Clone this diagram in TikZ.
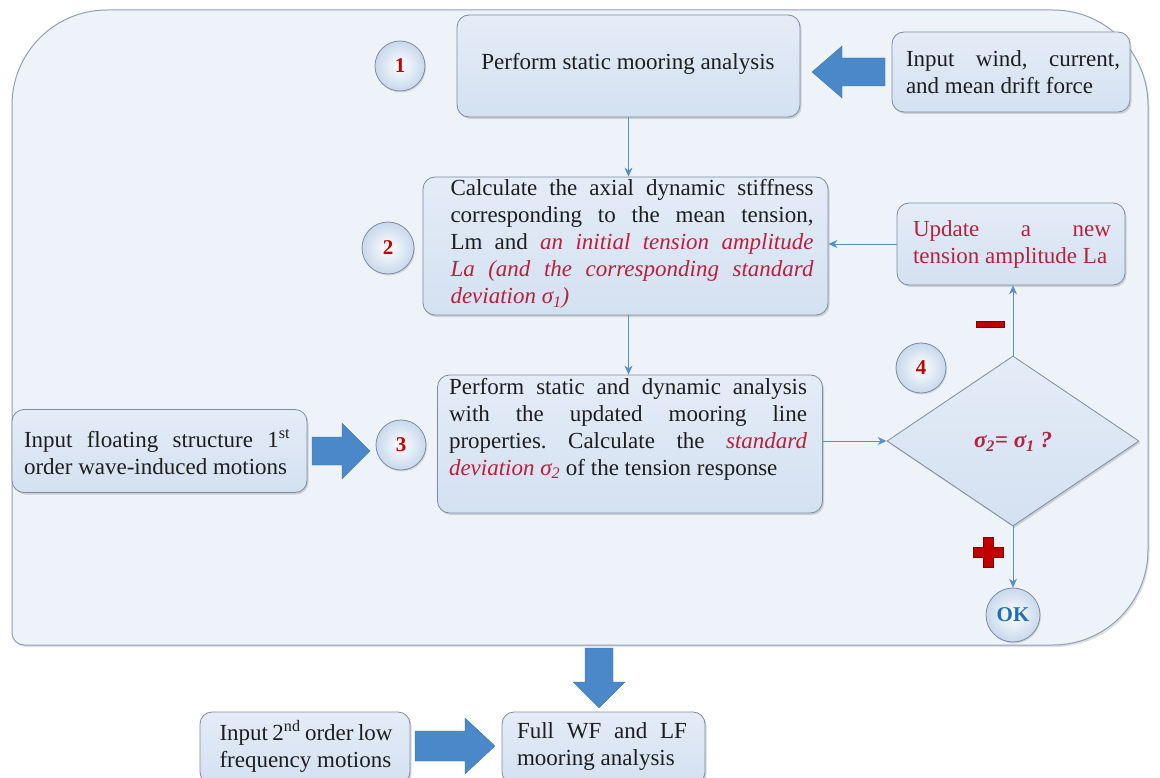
\documentclass[tikz,border=0pt]{standalone}
\usepackage{fontspec}
\setmainfont{Liberation Serif}
\usetikzlibrary{shapes.geometric,arrows.meta,shadows,calc}
\definecolor{contfill}{RGB}{238,243,250}
\definecolor{contline}{RGB}{141,160,186}
\definecolor{boxtop}{RGB}{228,236,247}
\definecolor{boxbot}{RGB}{212,225,241}
\definecolor{boxline}{RGB}{125,140,163}
\definecolor{barrow}{RGB}{74,136,202}
\definecolor{conncol}{RGB}{90,143,201}
\definecolor{redtxt}{RGB}{184,32,60}
\definecolor{numred}{RGB}{192,0,0}
\definecolor{darkred}{RGB}{128,0,0}
\definecolor{txtcol}{RGB}{30,30,30}
\definecolor{okblue}{RGB}{31,110,190}
\definecolor{circout}{RGB}{200,216,236}
\begin{document}
\begin{tikzpicture}[x=1pt,y=-1pt,
  container/.style={draw=contline, line width=1pt, fill=contfill,
    drop shadow={shadow xshift=1.5pt, shadow yshift=-2pt, opacity=0.25}},
  box/.style={draw=boxline, line width=0.8pt, rounded corners=12pt,
    top color=boxtop, bottom color=boxbot,
    drop shadow={shadow xshift=1.5pt, shadow yshift=-2pt, opacity=0.3}},
  txt/.style={font=\fontsize{23}{27}\selectfont,
    execute at begin node={\tolerance=10000\hyphenpenalty=10000\frenchspacing\relax},
    text=txtcol, align=justify, inner sep=0pt},
  numcirc/.style={circle, draw=boxline, line width=0.8pt, minimum size=50pt,
    inner sep=0pt, shading=radial, inner color=white, outer color=circout,
    font=\fontsize{21}{24}\selectfont\bfseries, text=numred,
    drop shadow={shadow xshift=1pt, shadow yshift=-1.5pt, opacity=0.25}},
  blockarrow/.style={fill=barrow, draw=barrow!80!black, line width=0.3pt},
  conn/.style={draw=conncol, line width=0.9pt, -{Stealth[length=9pt,width=8pt]}},
  signmark/.style={fill=numred, draw=darkred, line width=0.6pt}
]
\useasboundingbox (0,0) rectangle (1160,778);
\fill[white] (0,0) rectangle (1160,778);

% container
\path[container] (12,105) .. controls (12,52.6) and (54.6,10) .. (107,10)
  -- (1053,10) .. controls (1105.4,10) and (1148,52.6) .. (1148,105)
  -- (1148,550) .. controls (1148,602.4) and (1105.4,645) .. (1053,645)
  -- (24,645) .. controls (17.4,645) and (12,639.6) .. (12,633) -- cycle;

% boxes
\node[box, minimum width=343pt, minimum height=102pt] (b1) at (628.5,66) {};
\node[txt, align=center] (b1t) at (628,64) {Perform static mooring analysis};

\node[box, minimum width=238pt, minimum height=80pt] (win) at (1011,72) {};
\node[txt, text width=214pt] (wint) at (1013,72)
  {Input wind, current,\linebreak and mean drift force};

\node[box, minimum width=405pt, minimum height=138pt] (b2) at (625.5,246) {};
\node[txt, text width=363pt] (b2t) at (632,244)
  {Calculate the axial dynamic stiffness\linebreak corresponding to the mean tension,\linebreak
   Lm and \textcolor{redtxt}{\itshape an initial tension amplitude\linebreak
   La (and the corresponding standard\linebreak deviation σ\textsubscript{1})}};

\node[box, minimum width=228pt, minimum height=82pt] (up) at (1011,244) {};
\node[txt, text width=198pt, text=redtxt] (upt) at (1012,244)
  {Update a new\linebreak tension amplitude La};

\node[box, minimum width=385pt, minimum height=138pt] (b3) at (630,444) {};
\node[txt, text width=358pt] (b3t) at (628,429)
  {Perform static and dynamic analysis\linebreak with the updated mooring line\linebreak
   properties. Calculate the \textcolor{redtxt}{\itshape standard\linebreak
   deviation σ\textsubscript{2}} of the tension response};

\node[box, minimum width=295pt, minimum height=83pt] (flo) at (159.5,451) {};
\node[txt, text width=266pt] (flot) at (157,452)
  {Input floating structure 1\textsuperscript{st}\linebreak order wave-induced motions};

\node[box, draw=boxline, minimum width=252pt, minimum height=170pt,
  shape=diamond, rounded corners=0pt, inner sep=0pt] (dia) at (1013,441) {};
\node[txt, align=center, text=redtxt, font=\fontsize{23}{27}\selectfont\bfseries\itshape] (diat) at (1013,442)
  {σ\textsubscript{2}= σ\textsubscript{1} ?};

\node[box, minimum width=210pt, minimum height=72pt] (in2) at (305,748) {};
\node[txt, text width=173pt] (in2t) at (306,746)
  {Input 2\textsuperscript{nd} order low\linebreak frequency motions};

\node[box, minimum width=203pt, minimum height=72pt] (full) at (603.5,748) {};
\node[txt, text width=170pt] (fullt) at (602,746)
  {Full WF and LF\linebreak mooring analysis};

% numbered circles
\node[numcirc] (c1) at (400,66) {1};
\node[numcirc, minimum size=52pt] (c2) at (388,248) {2};
\node[numcirc] (c3) at (401,445) {3};
\node[numcirc] (c4) at (921,368) {4};
\node[numcirc, minimum size=54pt, text=okblue] (ok) at (1013,615) {OK};

% connectors
\draw[conn] (b1.south) -- (b1.south |- b2.north);
\draw[conn] (b1.south |- b2.south) -- (b1.south |- b3.north);
\draw[conn] (up.west) -- (b2.east |- up.west);
\draw[conn] (b3.east |- dia.west) -- (dia.west);
\draw[conn] (dia.north) -- (dia.north |- up.south);
\draw[conn] (dia.south) -- (ok.north);

% block arrows
\path[blockarrow] (885,58) -- (842,58) -- (842,46) -- (812,72) -- (842,98) -- (842,86) -- (885,86) -- cycle;
\path[blockarrow] (312,437) -- (342,437) -- (342,423) -- (370,451) -- (342,479) -- (342,465) -- (312,465) -- cycle;
\path[blockarrow] (585,648) -- (613,648) -- (613,682) -- (625,682) -- (599,708) -- (573,682) -- (585,682) -- cycle;
\path[blockarrow] (415,731) -- (465,731) -- (465,718) -- (495,746) -- (465,774) -- (465,761) -- (415,761) -- cycle;

% signs
\path[signmark] (976,321) rectangle (1004,327);
\path[signmark] (983,537) -- (993,537) -- (993,547) -- (1003,547) -- (1003,557) -- (993,557)
  -- (993,567) -- (983,567) -- (983,557) -- (973,557) -- (973,547) -- (983,547) -- cycle;
\end{tikzpicture}
\end{document}
